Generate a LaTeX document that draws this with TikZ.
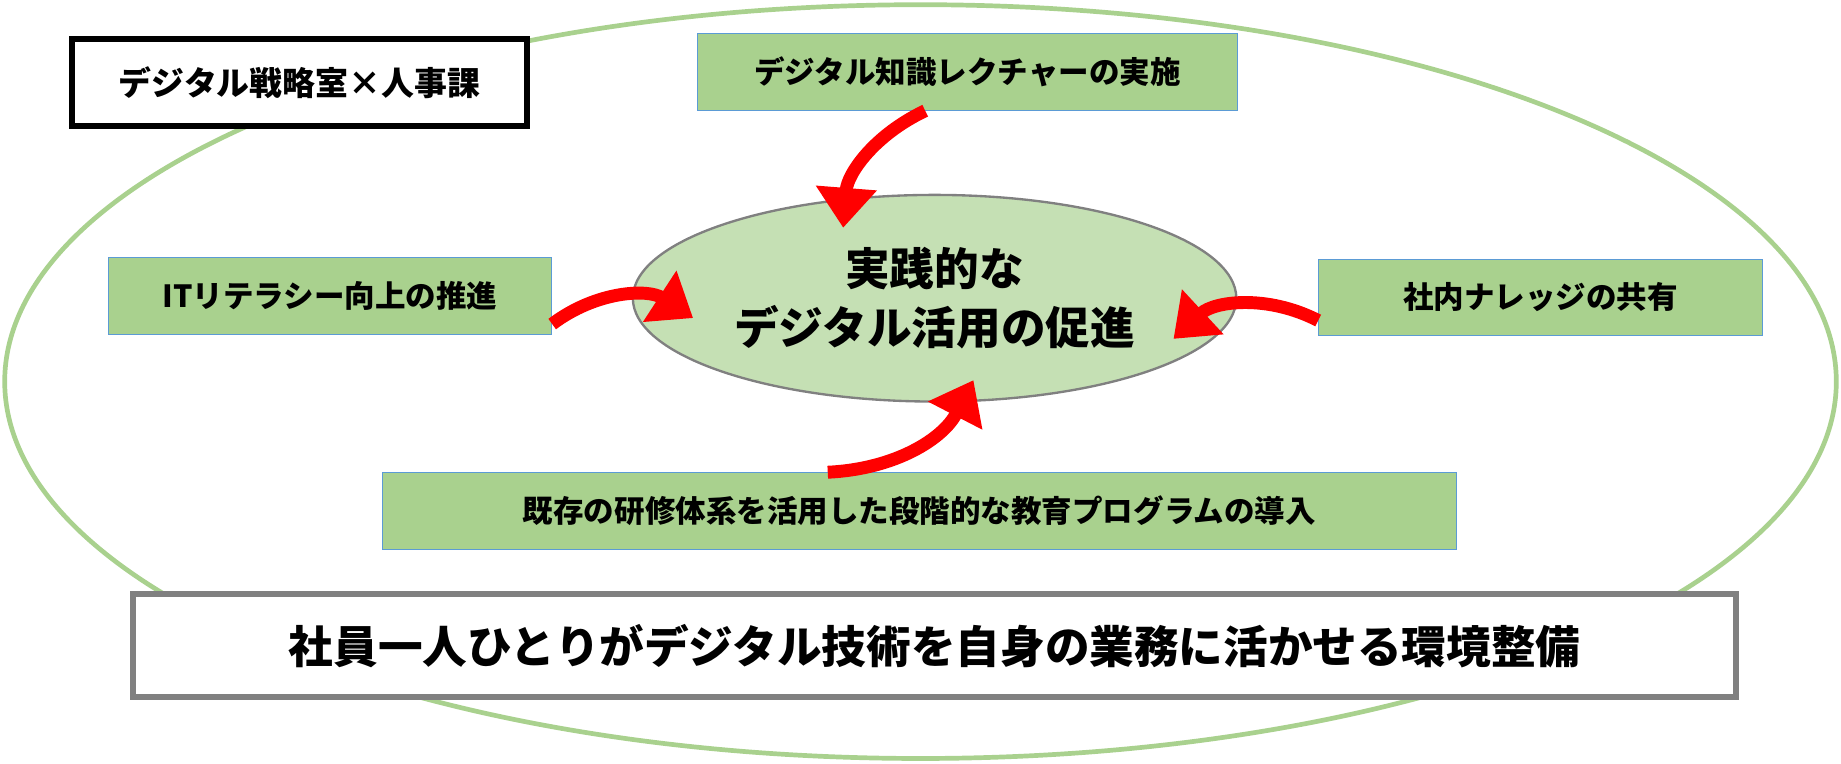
\documentclass[tikz,border=0pt]{standalone}
\usepackage{fontspec}
\setmainfont{Noto Sans CJK JP}
\usetikzlibrary{arrows.meta,positioning,shapes.geometric}
\definecolor{leaf}{RGB}{169,209,142}
\definecolor{pale}{RGB}{197,224,180}
\definecolor{edgeblue}{RGB}{91,155,213}
\tikzset{%
  stepbox/.style={rectangle, fill=leaf, draw=edgeblue, line width=0.6pt, font=\bfseries\fontsize{26}{30}\selectfont},
  myarrow/.style={draw=red, line width=11pt, -{Triangle[length=34pt,width=50pt]}, shorten >=2pt}
}
\begin{document}
\begin{tikzpicture}[x=1pt,y=-1pt]
  \useasboundingbox (0,0) rectangle (1568,650);
  \draw[leaf, line width=4pt] (784,325) ellipse [x radius=780, y radius=321];
  \node[draw=black, line width=5pt, fill=white, minimum width=388pt, minimum height=74pt, font=\bfseries\fontsize{28}{32}\selectfont] (team) at (255,70) {デジタル戦略室×人事課};
  \node[ellipse, fill=pale, draw=gray, line width=2pt, minimum width=514pt, minimum height=176pt, align=center, font=\bfseries\fontsize{38}{50}\selectfont] (core) at (796,254) {実践的な\\デジタル活用の促進};
  \node[stepbox, minimum width=460pt, minimum height=66pt] (lecture) at (824,61) {デジタル知識レクチャーの実施};
  \node[stepbox, minimum width=378pt, minimum height=65pt] (literacy) at (281,252) {ITリテラシー向上の推進};
  \node[stepbox, minimum width=378pt, minimum height=65pt] (share) at (1312,253) {社内ナレッジの共有};
  \node[stepbox, minimum width=915pt, minimum height=65pt] (program) at (783,435) {既存の研修体系を活用した段階的な教育プログラムの導入};
  \node[draw=gray, line width=5pt, fill=white, minimum width=1365pt, minimum height=88pt, font=\bfseries\fontsize{38}{42}\selectfont] (goal) at (796,550) {社員一人ひとりがデジタル技術を自身の業務に活かせる環境整備};
  \coordinate (tipA) at (718,196);
  \coordinate (tipB) at (592,272);
  \coordinate (tipC) at (998,290);
  \coordinate (tipD) at (830,322);
  \draw[myarrow] (lecture.south -| 788,0) to[bend right=30] (tipA);
  \draw[myarrow] ([yshift=-24pt]literacy.east) to[bend left=35] (tipB);
  \draw[myarrow] ([yshift=-20pt]share.west) to[bend right=35] (tipC);
  \draw[myarrow] (program.north -| 705,0) to[bend right=30] (tipD);
\end{tikzpicture}
\end{document}
